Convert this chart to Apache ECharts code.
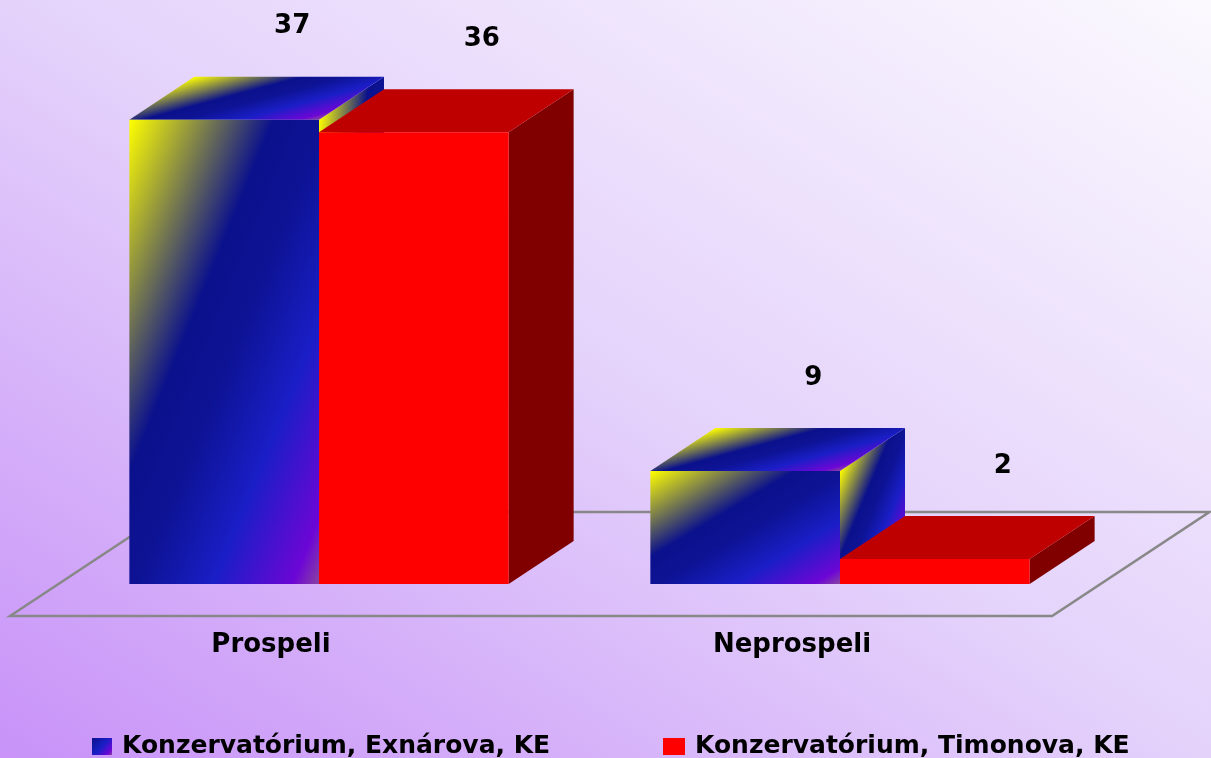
<!DOCTYPE html>
<html>
<head>
<meta charset="utf-8">
<title>Prospeli / Neprospeli</title>
<script src="https://cdn.jsdelivr.net/npm/echarts@6/dist/echarts.min.js"></script>
<style>
  html, body { margin: 0; padding: 0; }
  #chart { width: 1211px; height: 758px; }
</style>
</head>
<body>
<div id="chart"></div>
<script>
// ---- data ----
const categories = ['Prospeli', 'Neprospeli'];
const seriesNames = ['Konzervatórium, Exnárova, KE', 'Konzervatórium, Timonova, KE'];
const exnarova = [37, 9];
const timonova = [36, 2];

// ---- look ----
const FONT = '"DejaVu Sans", sans-serif';
const DEPTH_X = 65;          // horizontal shift of a bar's back face
const DEPTH_Y = 43;          // vertical shift of a bar's back face
const FLOOR_FRONT = 32;      // floor's front edge below bar base
const FLOOR_BACK = 72;       // floor's back edge above bar base
const BAR_SHARE = 0.364;     // one bar's share of a category band

const blueStops = [
  { offset: 0, color: '#ffff00' },
  { offset: 0.38, color: '#0b118c' },
  { offset: 0.52, color: '#0d1394' },
  { offset: 0.72, color: '#1a1ec6' },
  { offset: 0.93, color: '#6c06d6' },
  { offset: 1, color: '#8a44a0' }
];
const red = { front: '#ff0000', top: '#bf0000', side: '#800000' };

const chart = echarts.init(document.getElementById('chart'));
const W = chart.getWidth(), H = chart.getHeight();

// Gradient running diagonally across a face spanned by O + u*U + v*V,
// t = (a*u + b*v) / (a + b): the corner at O is the start, the opposite corner the end.
function faceGradient(O, U, V, stops, a, b) {
  a = a || 1; b = b || 1;
  const det = U[0] * V[1] - V[0] * U[1];
  const s = 1 / (a + b);
  const gx = s * (a * V[1] - b * U[1]) / det;
  const gy = s * (b * U[0] - a * V[0]) / det;
  const g2 = gx * gx + gy * gy;
  return new echarts.graphic.LinearGradient(
    O[0], O[1], O[0] + gx / g2, O[1] + gy / g2, stops, true);
}

function barRenderer(seriesIdx) {
  return function (params, api) {
    const cat = api.value(0), val = api.value(1);
    const base = api.coord([cat, 0]);
    const top = api.coord([cat, val]);
    const band = api.size([1, 0])[0];
    const w = band * BAR_SHARE;
    const x0 = base[0] + (seriesIdx === 0 ? -w : 0);
    const x1 = x0 + w;
    const yb = base[1], yt = top[1];
    const h = yb - yt;
    const isBlue = seriesIdx === 0;

    const frontFill = isBlue ? faceGradient([x0, yt], [w, 0], [0, h], blueStops) : red.front;
    const topFill = isBlue
      ? faceGradient([x0 + DEPTH_X, yt - DEPTH_Y], [w, 0], [-DEPTH_X, DEPTH_Y], blueStops, 2, 1)
      : red.top;
    const sideFill = isBlue
      ? faceGradient([x1, yt], [DEPTH_X, -DEPTH_Y], [0, h], blueStops)
      : red.side;

    return {
      type: 'group',
      children: [
        {
          type: 'polygon',
          shape: { points: [[x1, yt], [x1 + DEPTH_X, yt - DEPTH_Y], [x1 + DEPTH_X, yb - DEPTH_Y], [x1, yb]] },
          style: { fill: sideFill }
        },
        {
          type: 'polygon',
          shape: { points: [[x0, yt], [x1, yt], [x1 + DEPTH_X, yt - DEPTH_Y], [x0 + DEPTH_X, yt - DEPTH_Y]] },
          style: { fill: topFill }
        },
        {
          type: 'rect',
          shape: { x: x0, y: yt, width: w, height: h },
          style: { fill: frontFill }
        },
        {
          type: 'text',
          style: {
            text: String(val),
            x: (x0 + x1) / 2 + DEPTH_X + 3,
            y: yt - DEPTH_Y - 50,
            align: 'center',
            verticalAlign: 'middle',
            font: 'bold 26px ' + FONT,
            fill: '#000'
          }
        }
      ]
    };
  };
}

function floorRenderer(params, api) {
  const band = api.size([1, 0])[0];
  const left = api.coord([0, 0])[0] - band / 2;
  const right = api.coord([categories.length - 1, 0])[0] + band / 2;
  const y0 = api.coord([0, 0])[1];
  const fx = FLOOR_FRONT * DEPTH_X / DEPTH_Y;
  const bx = FLOOR_BACK * DEPTH_X / DEPTH_Y;
  return {
    type: 'polygon',
    shape: {
      points: [
        [left - fx, y0 + FLOOR_FRONT],
        [right - fx, y0 + FLOOR_FRONT],
        [right + bx, y0 - FLOOR_BACK],
        [left + bx, y0 - FLOOR_BACK]
      ]
    },
    style: { fill: 'none', stroke: '#888888', lineWidth: 2.5 }
  };
}

const legendText = { fontFamily: FONT, fontWeight: 'bold', fontSize: 25, color: '#000', padding: [0, 0, 0, 5] };

// page background: purple in the lower left fading to near white in the upper right
const bgDen = W * W + H * H;
const background = new echarts.graphic.LinearGradient(
  0, H, 2 * W * H * H / bgDen, H - 2 * W * W * H / bgDen,
  [
    { offset: 0, color: '#c892f8' },
    { offset: 0.5, color: '#e4d2fb' },
    { offset: 1, color: '#fbf9fe' }
  ], true);

const option = {
  backgroundColor: background,
  animation: false,
  grid: { left: 58.5, right: 110.5, top: 82, bottom: 174 },
  xAxis: {
    type: 'category',
    data: categories,
    axisLine: { show: false },
    axisTick: { show: false },
    splitLine: { show: false },
    axisLabel: {
      margin: 48,
      fontFamily: FONT,
      fontWeight: 'bold',
      fontSize: 26,
      color: '#000',
      padding: [0, 96, 0, 0]
    }
  },
  yAxis: { type: 'value', min: 0, max: 40, show: false },
  legend: [
    {
      data: [seriesNames[0]],
      left: 92, top: 734, padding: 0,
      icon: 'rect', itemWidth: 20, itemHeight: 17,
      textStyle: legendText,
      selectedMode: false
    },
    {
      data: [seriesNames[1]],
      left: 663, top: 734, padding: 0,
      icon: 'rect', itemWidth: 22, itemHeight: 17,
      textStyle: legendText,
      selectedMode: false
    }
  ],
  series: [
    {
      name: 'floor',
      type: 'custom',
      renderItem: floorRenderer,
      data: [[0, 0]],
      z: 1,
      silent: true
    },
    {
      name: seriesNames[0],
      type: 'custom',
      renderItem: barRenderer(0),
      itemStyle: {
        color: new echarts.graphic.LinearGradient(0, 0, 1, 1, [
          { offset: 0, color: '#0b118c' },
          { offset: 0.5, color: '#1a1ec6' },
          { offset: 0.85, color: '#6c06d6' },
          { offset: 1, color: '#8a44a0' }
        ])
      },
      data: exnarova.map((v, i) => [i, v]),
      z: 2
    },
    {
      name: seriesNames[1],
      type: 'custom',
      renderItem: barRenderer(1),
      itemStyle: { color: red.front },
      data: timonova.map((v, i) => [i, v]),
      z: 3
    }
  ]
};

chart.setOption(option);
</script>
</body>
</html>
